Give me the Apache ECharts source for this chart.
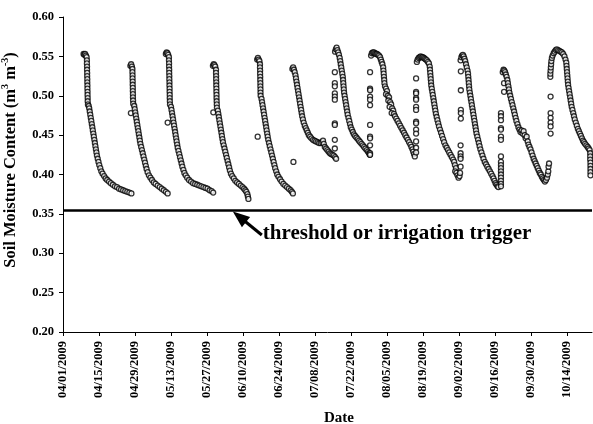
<!DOCTYPE html>
<html>
<head>
<meta charset="utf-8"/>
<script src="https://cdn.jsdelivr.net/npm/echarts@6.0.0/dist/echarts.min.js"></script>
<style>
 body{margin:0;background:#fff;}
 #chart{width:593px;height:424px;}
</style>
</head>
<body>
<div id="chart"></div>
<script>
// x = days after 04/01/2009, y = soil moisture (m3/m3), one array per drying cycle
var cycle1 = [[8.0,.553],[8.3,.552],[8.6,.553],[8.9,.551],[9.2,.549],
 [9.3,.545],[9.3,.541],[9.35,.537],[9.35,.533],[9.4,.529],[9.4,.525],[9.45,.521],[9.45,.517],[9.5,.513],[9.5,.509],[9.55,.505],[9.55,.501],[9.6,.497],[9.6,.493],[9.7,.489],
 [10.0,.487],[10.2,.484],[10.4,.480],[10.6,.476],[10.8,.472],[11.0,.468],[11.2,.464],[11.4,.460],[11.6,.456],[11.8,.452],[12.0,.448],[12.2,.444],[12.4,.440],[12.6,.436],[12.8,.432],[13.0,.428],[13.2,.424],[13.5,.420],[13.8,.416],[14.1,.412],[14.5,.408],[14.9,.404],[15.4,.401],[16.0,.398],[16.6,.395],[17.2,.393],[17.9,.391],[18.6,.389],[19.4,.387],[20.2,.385],[21.0,.384],[21.8,.382],[22.6,.381],[23.4,.380],[24.2,.379],[25.0,.378],[25.8,.377],[26.6,.376]];
var cycle2 = [[26.2,.538],[26.5,.540],[26.8,.537],[26.4,.478],
 [27.0,.534],[27.0,.530],[27.05,.526],[27.05,.522],[27.1,.518],[27.1,.514],[27.15,.510],[27.15,.506],[27.2,.502],[27.2,.498],[27.25,.494],[27.3,.490],
 [27.7,.487],[27.9,.483],[28.1,.479],[28.3,.475],[28.5,.471],[28.7,.467],[28.9,.463],[29.1,.459],[29.3,.455],[29.5,.451],[29.7,.447],[29.9,.443],[30.1,.439],[30.4,.435],[30.7,.431],[31.0,.427],[31.3,.423],[31.6,.419],[31.9,.415],[32.2,.411],[32.5,.407],[32.9,.403],[33.4,.399],[34.0,.396],[34.6,.393],[35.3,.390],[36.0,.388],[36.8,.386],[37.6,.384],[38.4,.382],[39.2,.380],[40.0,.378],[40.7,.376]];
var cycle3 = [[40.0,.553],[40.3,.555],[40.6,.554],[40.9,.552],[40.7,.466],
 [41.2,.549],[41.2,.545],[41.25,.541],[41.25,.537],[41.3,.533],[41.3,.529],[41.35,.525],[41.35,.521],[41.4,.517],[41.4,.513],[41.45,.509],[41.45,.505],[41.5,.501],[41.5,.497],[41.55,.493],[41.6,.489],
 [42.0,.486],[42.2,.482],[42.4,.478],[42.6,.474],[42.8,.470],[43.0,.466],[43.2,.462],[43.4,.458],[43.6,.454],[43.8,.450],[44.0,.446],[44.2,.442],[44.4,.438],[44.6,.434],[44.9,.430],[45.2,.426],[45.5,.422],[45.8,.418],[46.1,.414],[46.4,.410],[46.8,.406],[47.2,.402],[47.7,.399],[48.3,.396],[49.0,.393],[49.8,.391],[50.6,.389],[51.4,.388],[52.2,.387],[53.0,.386],[53.8,.385],[54.6,.384],[55.4,.383],[56.2,.382],[57.0,.380],[57.8,.379],[58.4,.377]];
var cycle4 = [[58.3,.538],[58.6,.540],[58.9,.539],[59.2,.537],[58.45,.479],
 [59.5,.533],[59.5,.529],[59.55,.525],[59.55,.521],[59.6,.517],[59.6,.513],[59.65,.509],[59.65,.505],[59.7,.501],[59.7,.497],[59.75,.493],[59.8,.489],[59.85,.485],
 [60.2,.481],[60.4,.477],[60.6,.473],[60.8,.469],[61.0,.465],[61.2,.461],[61.4,.457],[61.6,.453],[61.8,.449],[62.0,.445],[62.2,.441],[62.5,.437],[62.8,.433],[63.1,.429],[63.4,.425],[63.7,.421],[64.0,.417],[64.3,.413],[64.6,.409],[64.9,.405],[65.3,.401],[65.8,.398],[66.4,.395],[67.0,.392],[67.7,.390],[68.4,.388],[69.1,.386],[69.8,.384],[70.4,.382],[70.9,.380],[71.3,.378],[71.7,.375],[71.9,.372],[72.1,.369]];
var cycle5 = [[75.5,.546],[75.8,.548],[76.1,.546],[76.4,.544],[75.7,.448],
 [76.6,.540],[76.6,.536],[76.65,.532],[76.65,.528],[76.7,.524],[76.7,.520],[76.75,.516],[76.75,.512],[76.8,.508],[76.8,.504],[76.85,.500],
 [77.2,.496],[77.4,.492],[77.6,.488],[77.8,.484],[78.0,.480],[78.2,.476],[78.4,.472],[78.6,.468],[78.8,.464],[79.0,.460],[79.2,.456],[79.4,.452],[79.6,.448],[79.8,.444],[80.1,.440],[80.4,.436],[80.7,.432],[81.0,.428],[81.3,.424],[81.6,.420],[81.9,.416],[82.2,.412],[82.5,.408],[82.9,.404],[83.3,.400],[83.8,.397],[84.4,.394],[85.0,.391],[85.7,.388],[86.4,.386],[87.1,.384],[87.8,.382],[88.5,.380],[89.0,.378],[89.4,.376]];
var cycle6 = [[89.2,.534],[89.5,.536],[89.8,.533],[90.1,.530],[89.6,.416],
 [90.4,.526],[90.6,.522],[90.8,.518],[91.0,.514],[91.2,.510],[91.4,.506],[91.6,.502],[91.8,.498],[92.0,.494],[92.2,.490],[92.4,.486],[92.6,.482],[92.8,.478],[93.0,.474],[93.3,.470],[93.6,.466],[94.0,.462],[94.4,.459],[94.8,.456],[95.2,.453],[95.6,.450],[96.1,.448],[96.6,.446],[97.2,.444],[97.8,.443],[98.4,.442],[99.0,.441],[99.6,.440],[100.2,.440],[100.8,.441],[101.1,.443],[101.4,.439],[101.8,.435],[102.3,.433],[102.8,.431],[103.3,.429],[103.8,.427],[104.3,.426],[104.8,.425],[105.3,.424],[105.8,.422],[106.2,.420]];
var cycle7 = [[105.8,.556],[106.1,.559],[106.4,.561],[106.7,.558],[107.0,.555],[107.3,.552],
 [105.7,.530],[105.7,.516],[105.7,.512],[105.7,.503],[105.7,.499],[105.7,.495],[105.7,.465],[105.7,.463],[105.7,.444],[105.7,.433],
 [107.6,.548],[107.8,.544],[108.0,.540],[108.2,.536],[108.4,.532],[108.6,.528],[108.8,.524],[108.9,.520],[109.0,.516],[109.1,.512],[109.2,.508],[109.3,.504],[109.5,.500],[109.7,.496],[109.9,.492],[110.1,.488],[110.3,.484],[110.5,.480],[110.7,.476],[111.0,.472],[111.3,.468],[111.6,.464],[111.9,.460],[112.3,.457],[112.7,.454],[113.1,.451],[113.6,.449],[114.1,.447],[114.6,.445],[115.1,.443],[115.6,.441],[116.1,.439],[116.6,.437],[117.1,.435],[117.6,.433],[118.1,.431],[118.6,.429],[119.0,.427],[119.3,.425]];
var cycle8 = [[119.4,.530],[119.4,.509],[119.4,.507],[119.4,.499],[119.4,.495],[119.4,.488],[119.4,.463],[119.4,.448],[119.4,.446],[119.4,.437],[119.4,.427],[119.4,.425],
 [119.8,.551],[120.1,.554],[120.5,.555],[120.9,.555],[121.3,.554],[121.7,.553],[122.1,.553],[122.5,.552],[122.9,.551],[123.3,.549],[123.6,.546],[123.9,.543],[124.2,.540],[124.5,.536],[124.6,.532],[124.7,.528],[124.8,.524],[124.9,.520],[125.0,.516],
 [125.2,.512],[125.6,.509],[126.0,.506],[125.6,.502],[126.3,.500],[126.8,.498],[126.5,.494],[127.2,.492],[127.6,.489],[127.0,.486],[128.0,.484],[128.4,.481],[127.8,.478],[128.7,.477],[129.1,.474],[129.6,.471],[130.1,.468],[130.6,.465],[131.1,.462],[131.6,.459],[132.1,.456],[132.6,.453],[133.1,.450],[133.6,.447],[134.1,.444],[134.6,.441],[135.1,.438],[135.5,.435],[135.9,.432],[136.2,.429],[136.5,.426],[136.8,.423]];
var cycle9 = [[137.3,.522],[137.3,.505],[137.3,.503],[137.3,.497],[137.3,.495],[137.3,.486],[137.3,.482],[137.3,.467],[137.3,.465],[137.3,.457],[137.3,.452],[137.3,.442],[137.3,.434],[137.3,.428],
 [137.6,.543],[137.9,.546],[138.3,.548],[138.7,.549],[139.1,.550],[139.5,.549],[139.9,.549],[140.3,.548],[140.7,.547],[141.1,.546],[141.5,.545],[141.9,.543],[142.3,.541],
 [142.6,.537],[142.7,.533],[142.8,.529],[142.9,.525],[143.0,.521],[143.1,.517],[143.2,.513],[143.4,.509],[143.6,.505],[143.8,.501],[144.0,.497],[144.2,.493],[144.4,.489],[144.6,.485],[144.8,.481],[145.0,.477],[145.3,.473],[145.6,.469],[145.9,.465],[146.2,.461],[146.6,.457],[147.0,.453],[147.4,.449],[147.8,.445],[148.2,.441],[148.7,.437],[149.2,.434],[149.7,.431],[150.2,.428],[150.7,.425],[151.2,.422],[151.7,.419],[152.1,.416],
 [152.4,.412],[152.8,.408],[152.5,.404],[153.0,.402],[153.4,.399],[153.8,.396],[154.2,.398],[154.4,.402],
 [154.6,.437],[154.6,.427],[154.6,.423],[154.6,.420],[154.6,.410]];
var cycle10 = [[154.6,.545],[154.9,.549],[155.2,.551],[155.5,.552],[155.8,.550],[156.1,.547],[156.4,.544],
 [154.7,.531],[154.7,.507],[154.7,.482],[154.7,.478],[154.7,.471],
 [156.7,.540],[157.0,.536],[157.3,.532],[157.5,.528],[157.6,.524],[157.7,.520],[157.8,.516],[157.9,.512],[158.0,.508],[158.2,.504],[158.4,.500],[158.6,.496],[158.8,.492],[159.0,.488],[159.2,.484],[159.4,.480],[159.6,.476],[159.8,.472],[160.0,.468],[160.2,.464],[160.4,.460],[160.6,.456],[160.8,.452],[161.1,.448],[161.4,.444],[161.7,.440],[162.0,.436],[162.3,.432],[162.7,.428],[163.1,.424],[163.5,.420],[164.0,.416],[164.5,.413],[165.0,.410],[165.5,.407],[166.0,.404],[166.5,.401],[167.0,.398],[167.4,.395],[167.8,.392],[168.2,.389],[168.6,.387],[169.0,.385],[169.3,.384]];
var cycle11 = [[170.3,.478],[170.3,.474],[170.3,.469],[170.3,.459],[170.3,.457],[170.3,.448],[170.3,.444],[170.3,.423],[170.3,.416],[170.3,.412],[170.3,.408],[170.3,.404],[170.3,.400],[170.3,.396],[170.3,.392],[170.3,.388],[170.3,.385],
 [171.0,.530],[171.3,.533],[171.6,.532],[171.9,.530],[171.5,.516],[171.5,.505],
 [172.2,.527],[172.5,.524],[172.8,.520],[173.0,.516],[173.2,.512],[173.4,.508],[173.6,.504],[173.9,.500],[174.2,.496],[174.5,.492],[174.8,.488],[175.1,.484],[175.4,.480],[175.7,.476],[176.0,.472],[176.3,.468],[176.7,.464],[177.1,.460],[177.5,.457],[177.9,.454],
 [178.3,.456],[178.7,.452],[179.1,.455],[179.5,.450],[179.9,.446],[180.3,.448],[180.7,.442],[181.0,.438],[181.4,.435],
 [181.8,.432],[182.2,.428],[182.6,.424],[183.0,.420],[183.4,.417],[183.8,.414],[184.2,.411],[184.6,.408],[185.0,.405],[185.4,.402],[185.8,.400],[186.2,.397],[186.6,.395],[187.0,.393],[187.4,.391],[187.8,.393],[188.2,.396],[188.5,.400],[188.7,.404],[188.8,.410],[189.0,.414]];
var cycle12 = [[189.6,.499],[189.6,.478],[189.6,.472],[189.6,.466],[189.6,.461],[189.6,.452],
 [189.5,.524],[189.5,.528],[189.6,.532],[189.7,.536],[189.8,.540],[189.9,.544],[190.1,.548],[190.4,.551],[190.8,.554],[191.2,.556],[191.6,.558],[192.0,.559],[192.5,.558],[193.0,.557],[193.5,.556],[194.0,.555],[194.5,.553],[195.0,.550],[195.4,.546],
 [195.7,.542],[195.8,.538],[195.9,.534],[196.0,.530],[196.1,.526],[196.2,.522],[196.3,.518],[196.4,.514],[196.6,.510],[196.8,.506],[197.0,.502],[197.2,.498],[197.4,.494],[197.6,.490],[197.8,.486],[198.1,.482],[198.4,.478],[198.7,.474],[199.0,.470],[199.4,.466],[199.8,.462],[200.2,.458],[200.6,.455],[201.0,.452],[201.4,.449],[201.8,.446],[202.2,.443],[202.6,.441],[203.0,.439],[203.5,.437],[204.0,.435],[204.4,.433],[204.8,.431],
 [205.0,.427],[205.0,.423],[205.0,.419],[205.1,.415],[205.1,.411],[205.1,.407],[205.1,.403],[205.1,.399]];

var tickDays = [0,14,28,42,56,70,84,98,112,126,140,154,168,182,196];
var yTicks = [0.20,0.25,0.30,0.35,0.40,0.45,0.50,0.55,0.60];
var threshold = 0.355;
// arrow: head sits on the threshold line, tail next to the note
var arrowHead = [68.6, 0.3463];
var arrowTail = [77.3, 0.3232];
var note = 'threshold or irrigation trigger';

var allPts = [].concat(cycle1,cycle2,cycle3,cycle4,cycle5,cycle6,cycle7,cycle8,cycle9,cycle10,cycle11,cycle12);

function dayLabel(d){
  var dt = new Date(2009, 3, 1 + Math.round(d));
  var m = dt.getMonth()+1, dd = dt.getDate();
  return (m<10?'0':'')+m+'/'+(dd<10?'0':'')+dd+'/'+dt.getFullYear();
}

var font = 'Liberation Serif';
var chart = echarts.init(document.getElementById('chart'));
chart.setOption({
  animation:false,
  backgroundColor:'#fff',
  grid:{left:63,right:1,top:17,bottom:92,outerBoundsMode:'none'},
  xAxis:{
    type:'value',min:0,max:205.7,
    splitLine:{show:false},
    axisLine:{lineStyle:{color:'#000',width:1}},
    axisTick:{show:true,length:4,lineStyle:{color:'#000'},customValues:tickDays},
    axisLabel:{rotate:90,margin:9,color:'#000',fontFamily:font,fontWeight:'bold',fontSize:12.5,
      customValues:tickDays,formatter:function(v){return dayLabel(v);}}
  },
  yAxis:{
    type:'value',min:yTicks[0],max:yTicks[yTicks.length-1],interval:0.05,
    splitLine:{show:false},
    axisLine:{show:true,lineStyle:{color:'#000',width:1}},
    axisTick:{show:true,length:4,lineStyle:{color:'#000'}},
    axisLabel:{margin:9,color:'#000',fontFamily:font,fontWeight:'bold',fontSize:12.5,
      formatter:function(v){return v.toFixed(2);}}
  },
  series:[{
    type:'scatter',
    data:allPts,
    symbol:'circle',symbolSize:5,
    itemStyle:{color:'#fff',borderColor:'#000',borderWidth:1.3},
    silent:true,
    markLine:{
      silent:true,
      animation:false,
      precision:4,
      symbol:['none','none'],
      label:{show:false},
      data:[
        {yAxis:threshold,lineStyle:{color:'#000',width:2.5,type:'solid'}},
        [{coord:arrowHead,symbol:'triangle',symbolSize:[13,17],lineStyle:{color:'#000',width:3,type:'solid'}},
         {coord:arrowTail,symbol:'none'}]
      ]
    }
  }]
});

var tail = chart.convertToPixel({seriesIndex:0}, arrowTail);
chart.setOption({
  graphic:[
    {type:'text',left:tail[0]+1,top:tail[1]-12,
     style:{text:note,fill:'#000',font:'bold 21px "Liberation Serif"'}},
    {type:'text',x:339,y:418,
     style:{text:'Date',fill:'#000',font:'bold 15px "Liberation Serif"',align:'center',verticalAlign:'middle'}},
    {type:'text',x:11,y:160,rotation:Math.PI/2,
     style:{text:'{a|Soil Moisture Content (m}{s|3}{a| m}{s|-3}{a|)}',align:'center',verticalAlign:'middle',
       rich:{
         a:{fontFamily:font,fontWeight:'bold',fontSize:16.5,lineHeight:21,fill:'#000'},
         s:{fontFamily:font,fontWeight:'bold',fontSize:10,lineHeight:10,verticalAlign:'top',fill:'#000'}
       }}}
  ]
});
</script>
</body>
</html>
